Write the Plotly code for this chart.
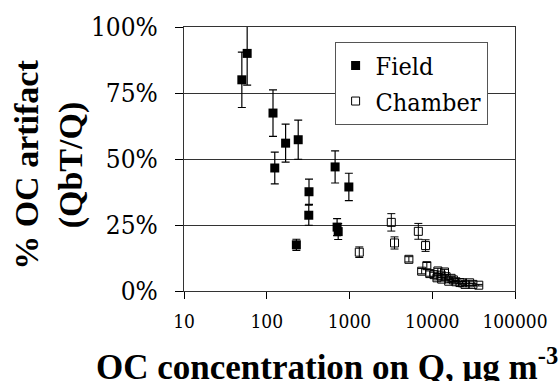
import plotly.graph_objects as go

# Field data
field_x = [50, 58, 119, 169, 240, 125, 324, 322, 228, 670, 982, 708, 730]
field_y = [80, 90, 67.4, 56, 57.3, 46.6, 37.6, 28.7, 17.5, 47, 39.4, 24.2, 22.5]
field_err = [10.5, 12, 8.8, 7.2, 7.4, 6, 4.8, 3.8, 2.1, 6.1, 5.2, 3.2, 3]

# Chamber data
chamber_x = [1313, 3200, 3500, 5220, 6790, 8300, 8600, 7450, 9330, 10500, 11700, 11400,
             12800, 13000, 14060, 14700, 15800, 16900, 18000, 19300, 21600, 23200,
             24900, 28300, 31000, 36500]
chamber_y = [14.7, 26, 18.2, 12, 22.6, 17.2, 9.6, 7.5, 6.6, 6.2, 7.6, 5.0,
             6.0, 4.5, 7.2, 5.4, 3.7, 4.8, 4.2, 3.5, 3.2, 3.1,
             2.5, 3.1, 2.5, 2.2]
chamber_err = [2, 3.3, 2.3, 1, 3, 2.2, 1.2, 1, 1, 0.9, 1, 0.8,
               0.8, 0.7, 1, 0.8, 0.6, 0.6, 0.6, 0.5, 0.5, 0.5,
               0.4, 0.4, 0.4, 0.3]

x_ticks = [10, 100, 1000, 10000, 100000]
x_ticktext = ["10", "100", "1000", "10000", "100000"]
y_ticks = [0, 25, 50, 75, 100]
y_ticktext = ["0%", "25%", "50%", "75%", "100%"]

FONT = "Liberation Serif"
REG = "DejaVu Serif Condensed, DejaVu Serif"

fig = go.Figure()
fig.add_trace(go.Scatter(
    x=field_x, y=field_y, mode="markers", name="Field",
    marker=dict(symbol="square", size=9, color="black", line=dict(width=0)),
    error_y=dict(type="data", array=field_err, visible=True, color="black", thickness=1.2, width=4),
    cliponaxis=False,
))
fig.add_trace(go.Scatter(
    x=chamber_x, y=chamber_y, mode="markers", name="Chamber",
    marker=dict(symbol="square-open", size=8, color="black", line=dict(width=1)),
    error_y=dict(type="data", array=chamber_err, visible=True, color="black", thickness=1, width=4),
    cliponaxis=False,
))

fig.update_layout(
    width=560, height=381,
    margin=dict(l=184, r=38, t=24, b=90),
    paper_bgcolor="white", plot_bgcolor="white",
    font=dict(family=FONT, color="black"),
    showlegend=True,
    legend=dict(
        x=0.455, y=0.944, xanchor="left", yanchor="top",
        bgcolor="white", bordercolor="#555555", borderwidth=1,
        font=dict(family=REG, size=25, color="black"),
        itemsizing="trace", tracegroupgap=0,
    ),
    xaxis=dict(
        type="log", range=[1, 5],
        tickvals=x_ticks, ticktext=x_ticktext,
        ticks="outside", ticklen=7, tickcolor="black", tickwidth=1,
        showline=True, linecolor="#333333", linewidth=1, mirror=True,
        showgrid=False, zeroline=False,
        tickfont=dict(family=REG, size=19, color="black"),
        ticklabelstandoff=6,
    ),
    yaxis=dict(
        range=[0, 100],
        tickvals=y_ticks, ticktext=y_ticktext,
        ticks="outside", ticklen=8, tickcolor="black", tickwidth=1,
        showline=True, linecolor="#333333", linewidth=1, mirror=True,
        showgrid=True, gridcolor="#333333", gridwidth=1, zeroline=False,
        tickfont=dict(family=REG, size=26, color="black"),
        ticklabelstandoff=12,
    ),
    annotations=[
        dict(text="<b>% OC artifact<br>(QbT/Q)</b>", xref="paper", yref="paper",
             x=-0.41, y=0.479, xanchor="center", yanchor="middle", textangle=-90,
             showarrow=False, font=dict(family=FONT, size=34, color="black")),
        dict(text="<b>OC concentration on Q, μg m<sup>-3</sup></b>", xref="paper", yref="paper",
             x=0.432, y=-0.184, xanchor="center", yanchor="top",
             showarrow=False, font=dict(family=FONT, size=35, color="black")),
    ],
)

fig.write_html("out.html")
